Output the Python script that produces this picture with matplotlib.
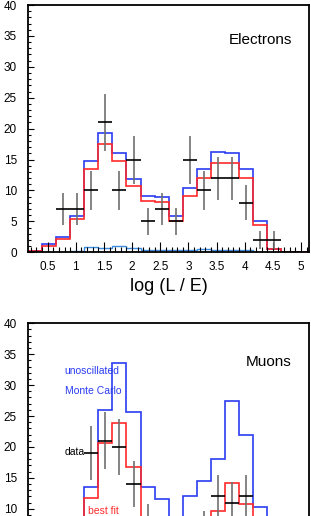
import numpy as np
import matplotlib
matplotlib.use('Agg')
import matplotlib.pyplot as plt
from matplotlib.ticker import MultipleLocator

plt.rcParams['font.family'] = ['Liberation Sans Narrow', 'Liberation Sans', 'DejaVu Sans']

# log(L/E) binning: 20 bins of width 0.25
bin_edges = np.linspace(0.15, 5.15, 21)
bin_centers = 0.5 * (bin_edges[:-1] + bin_edges[1:])

# electrons
e_unosc = [0.2, 1.35, 2.4, 5.9, 14.85, 19.3, 16.0, 11.9, 9.1, 8.9,
           5.9, 10.4, 13.5, 16.25, 16.0, 13.45, 5.0, 0.6, 0, 0]
e_bestfit = [0.15, 1.1, 2.2, 5.45, 13.5, 17.5, 14.7, 10.8, 8.35, 8.1,
             5.1, 9.1, 12.1, 14.4, 14.5, 12.1, 4.5, 0.6, 0, 0]
e_small = [0, 0, 0, 0.2, 0.85, 0.75, 1.1, 0.65, 0.4, 0.35,
           0.35, 0.35, 0.55, 0.3, 0.3, 0.3, 0, 0, 0, 0]
e_data = [np.nan, np.nan, 7, 7, 10, 21, 10, 15, 5, 7,
          5, 15, 10, 12, 12, 8, 2, 2, np.nan, np.nan]

# muons (lower panel is cut off below ~9 events)
mu_unosc = [1, 3, 5, 8, 13.5, 25.9, 33.5, 25.7, 13.5, 11.5,
            7, 12.1, 14.5, 18.0, 27.4, 21.9, 10.3, 4, 1, 0]
mu_bestfit = [1, 2.5, 4, 7, 11.8, 20.7, 23.8, 16.75, 8, 6,
              5, 6, 8, 9.7, 14.2, 10.8, 5, 2, 0.5, 0]
mu_data = [np.nan, 1, 3, 5, 19, 21, 20, 14, 8, 4,
           3, 5, 7, 12, 11, 12, 6, 2, 1, np.nan]

blue = '#2a3cf0'
red = '#ff2a2a'
lightblue = '#3d8de0'
grey = '#707070'


def style_axes(ax):
    ax.set_xlim(0.15, 5.15)
    ax.set_ylim(0, 40)
    ax.xaxis.set_major_locator(MultipleLocator(0.5))
    ax.xaxis.set_minor_locator(MultipleLocator(0.1))
    ax.yaxis.set_major_locator(MultipleLocator(5))
    ax.yaxis.set_minor_locator(MultipleLocator(1))
    ax.tick_params(axis='x', which='major', direction='in', length=7, width=0.8,
                   labelsize=8.5, pad=6)
    ax.tick_params(axis='x', which='minor', direction='in', length=3.5, width=0.8)
    ax.tick_params(axis='y', which='major', direction='in', length=4, width=0.8,
                   labelsize=8.5, pad=8)
    ax.tick_params(axis='y', which='minor', direction='in', length=2, width=0.8)
    ax.xaxis.set_major_formatter(lambda v, p: f'{v:g}')
    for s in ax.spines.values():
        s.set_linewidth(1.3)


def draw(ax, unosc, bestfit, data):
    ax.stairs(unosc, bin_edges, color=blue, lw=1.2)
    ax.stairs(bestfit, bin_edges, color=red, lw=1.2)
    d = np.array(data, dtype=float)
    ax.errorbar(bin_centers, d, yerr=np.sqrt(d), fmt='none', ecolor=grey, elinewidth=1.2)
    ax.errorbar(bin_centers, d, xerr=0.125, fmt='none', ecolor='black', elinewidth=1.2)


fig = plt.figure(figsize=(3.11, 5.16), dpi=100)

ax1 = fig.add_axes([0.090, 0.511, 0.905, 0.4793])
style_axes(ax1)
ax1.stairs(e_small[3:16], bin_edges[3:17], color=lightblue, lw=1.0)
draw(ax1, e_unosc, e_bestfit, e_data)
ax1.text(4.85, 34.4, 'Electrons', ha='right', va='center', fontsize=11)
ax1.set_xlabel('log (L / E)', fontsize=13, labelpad=4)

# lower panel runs past the bottom of the picture
ax2 = fig.add_axes([0.090, -0.1058, 0.905, 0.4793])
style_axes(ax2)
ax2.tick_params(axis='x', labelbottom=False)
ax2.yaxis.set_major_formatter(lambda v, p: f'{v:g}' if v >= 10 else '')
draw(ax2, mu_unosc, mu_bestfit, mu_data)
ax2.text(4.83, 33.7, 'Muons', ha='right', va='center', fontsize=11)
ax2.text(0.80, 32.3, 'unoscillated', color=blue, va='center', fontsize=7.5)
ax2.text(0.80, 29.0, 'Monte Carlo', color=blue, va='center', fontsize=7.5)
ax2.text(0.80, 19.1, 'data', color='black', va='center', fontsize=7.5)
ax2.text(1.21, 9.6, 'best fit', color=red, va='center', fontsize=7.5)

fig.savefig('out.png', dpi=100)
